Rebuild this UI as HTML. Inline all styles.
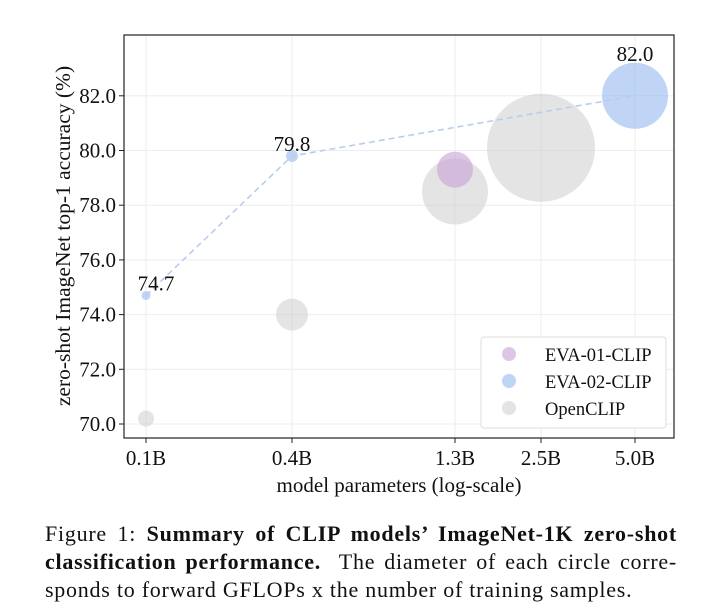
<!DOCTYPE html>
<html><head><meta charset="utf-8"><style>
body{margin:0;background:#fff;width:723px;height:614px;overflow:hidden;font-family:"Liberation Serif",serif}
.cap{position:absolute;left:45px;top:520px;width:632px;font-size:22px;letter-spacing:0.75px;line-height:28px;color:#111}
.ln{display:block;text-align:justify;text-align-last:justify;white-space:nowrap}
.ln.last{text-align-last:left}
</style></head><body>
<svg id="chart" width="723" height="515" style="position:absolute;left:0;top:0" font-family="Liberation Serif, serif"></svg>
<div class="cap"><span class="ln">Figure 1: <b>Summary of CLIP models’ ImageNet-1K zero-shot</b></span><span class="ln"><b>classification performance.</b>&nbsp; The diameter of each circle corre-</span><span class="ln last">sponds to forward GFLOPs x the number of training samples.</span></div>
<script>
const xTicks=[0.1,0.4,1.3,2.5,5.0];
const xTickLabels=["0.1B","0.4B","1.3B","2.5B","5.0B"];
const yTicks=[70,72,74,76,78,80,82];
const openX=[0.1,0.4,1.3,2.5];
const openY=[70.2,74.0,78.5,80.1];
const openR=[8,16,33,54];
const eva1X=[1.3];
const eva1Y=[79.3];
const eva1R=[18];
const eva2X=[0.1,0.4,5.0];
const eva2Y=[74.7,79.8,82.0];
const eva2R=[4.5,6,33];
const eva2Labels=["74.7","79.8","82.0"];
const NS="http://www.w3.org/2000/svg";
const svg=document.getElementById('chart');
const L=124,R=674,T=35,B=438;
const tickPx=[146,292,455,541,635];
function x(v){for(let i=0;i<xTicks.length-1;i++){if(v<=xTicks[i+1]){const a=Math.log(xTicks[i]),b=Math.log(xTicks[i+1]);return tickPx[i]+(Math.log(v)-a)/(b-a)*(tickPx[i+1]-tickPx[i]);}}return tickPx[tickPx.length-1];}
function y(v){return 424-(v-70)*27.35;}
function el(t,a,txt){const e=document.createElementNS(NS,t);for(const k in a)e.setAttribute(k,a[k]);if(txt!=null)e.textContent=txt;svg.appendChild(e);return e;}
let e;
xTicks.forEach((v,i)=>{e=el('line',{x1:x(v),x2:x(v),y1:T,y2:B,stroke:'#eee'});

});
yTicks.forEach(v=>{e=el('line',{x1:L,x2:R,y1:y(v),y2:y(v),stroke:'#eee'});

});
function bubbles(X,Y,Rr,col,name){X.forEach((v,i)=>{e=el('circle',{cx:x(v),cy:y(Y[i]),r:Rr[i],fill:col});

});}
bubbles(openX,openY,openR,'rgba(205,205,205,0.55)','openclip-bubble');
bubbles(eva1X,eva1Y,eva1R,'rgba(200,160,215,0.6)','eva01-bubble');
bubbles(eva2X,eva2Y,eva2R,'rgba(150,185,240,0.6)','eva02-bubble');
e=el('polyline',{points:eva2X.map((v,i)=>x(v)+','+y(eva2Y[i])).join(' '),fill:'none',stroke:'#b8cdf0','stroke-width':1.6,'stroke-dasharray':'6,4'});


eva2X.forEach((v,i)=>{e=el('text',{x:x(v)+(i==0?10:0),y:y(eva2Y[i])-(eva2R[i]>10?eva2R[i]+2:5),'text-anchor':'middle','font-size':21,fill:'#111'},eva2Labels[i]);

});
e=el('rect',{x:L,y:T,width:R-L,height:B-T,fill:'none',stroke:'#222','stroke-width':1.2});


xTicks.forEach((v,i)=>{el('line',{x1:x(v),x2:x(v),y1:B,y2:B+5,stroke:'#222'});
e=el('text',{x:x(v),y:B+27,'text-anchor':'middle','font-size':21,fill:'#111'},xTickLabels[i]);

});
yTicks.forEach(v=>{el('line',{x1:L-5,x2:L,y1:y(v),y2:y(v),stroke:'#222'});
e=el('text',{x:L-8,y:y(v)+7,'text-anchor':'end','font-size':21,fill:'#111'},v.toFixed(1));

});
e=el('text',{x:399,y:492,'text-anchor':'middle','font-size':21,fill:'#111'},'model parameters (log-scale)');


e=el('text',{x:0,y:0,'text-anchor':'middle','font-size':21.5,fill:'#111',transform:'translate(70,236) rotate(-90)'},'zero-shot ImageNet top-1 accuracy (%)');


e=el('rect',{x:481,y:337,width:185,height:91,rx:3,fill:'#fff',stroke:'#ddd'});


[['EVA-01-CLIP','rgba(200,160,215,0.6)'],['EVA-02-CLIP','rgba(150,185,240,0.6)'],['OpenCLIP','rgba(205,205,205,0.55)']].forEach((d,i)=>{
el('circle',{cx:509,cy:354+i*27,r:7,fill:d[1]});
e=el('text',{x:545,y:361+i*27,'font-size':18.5,fill:'#111'},d[0]);

});
</script>
</body></html>
